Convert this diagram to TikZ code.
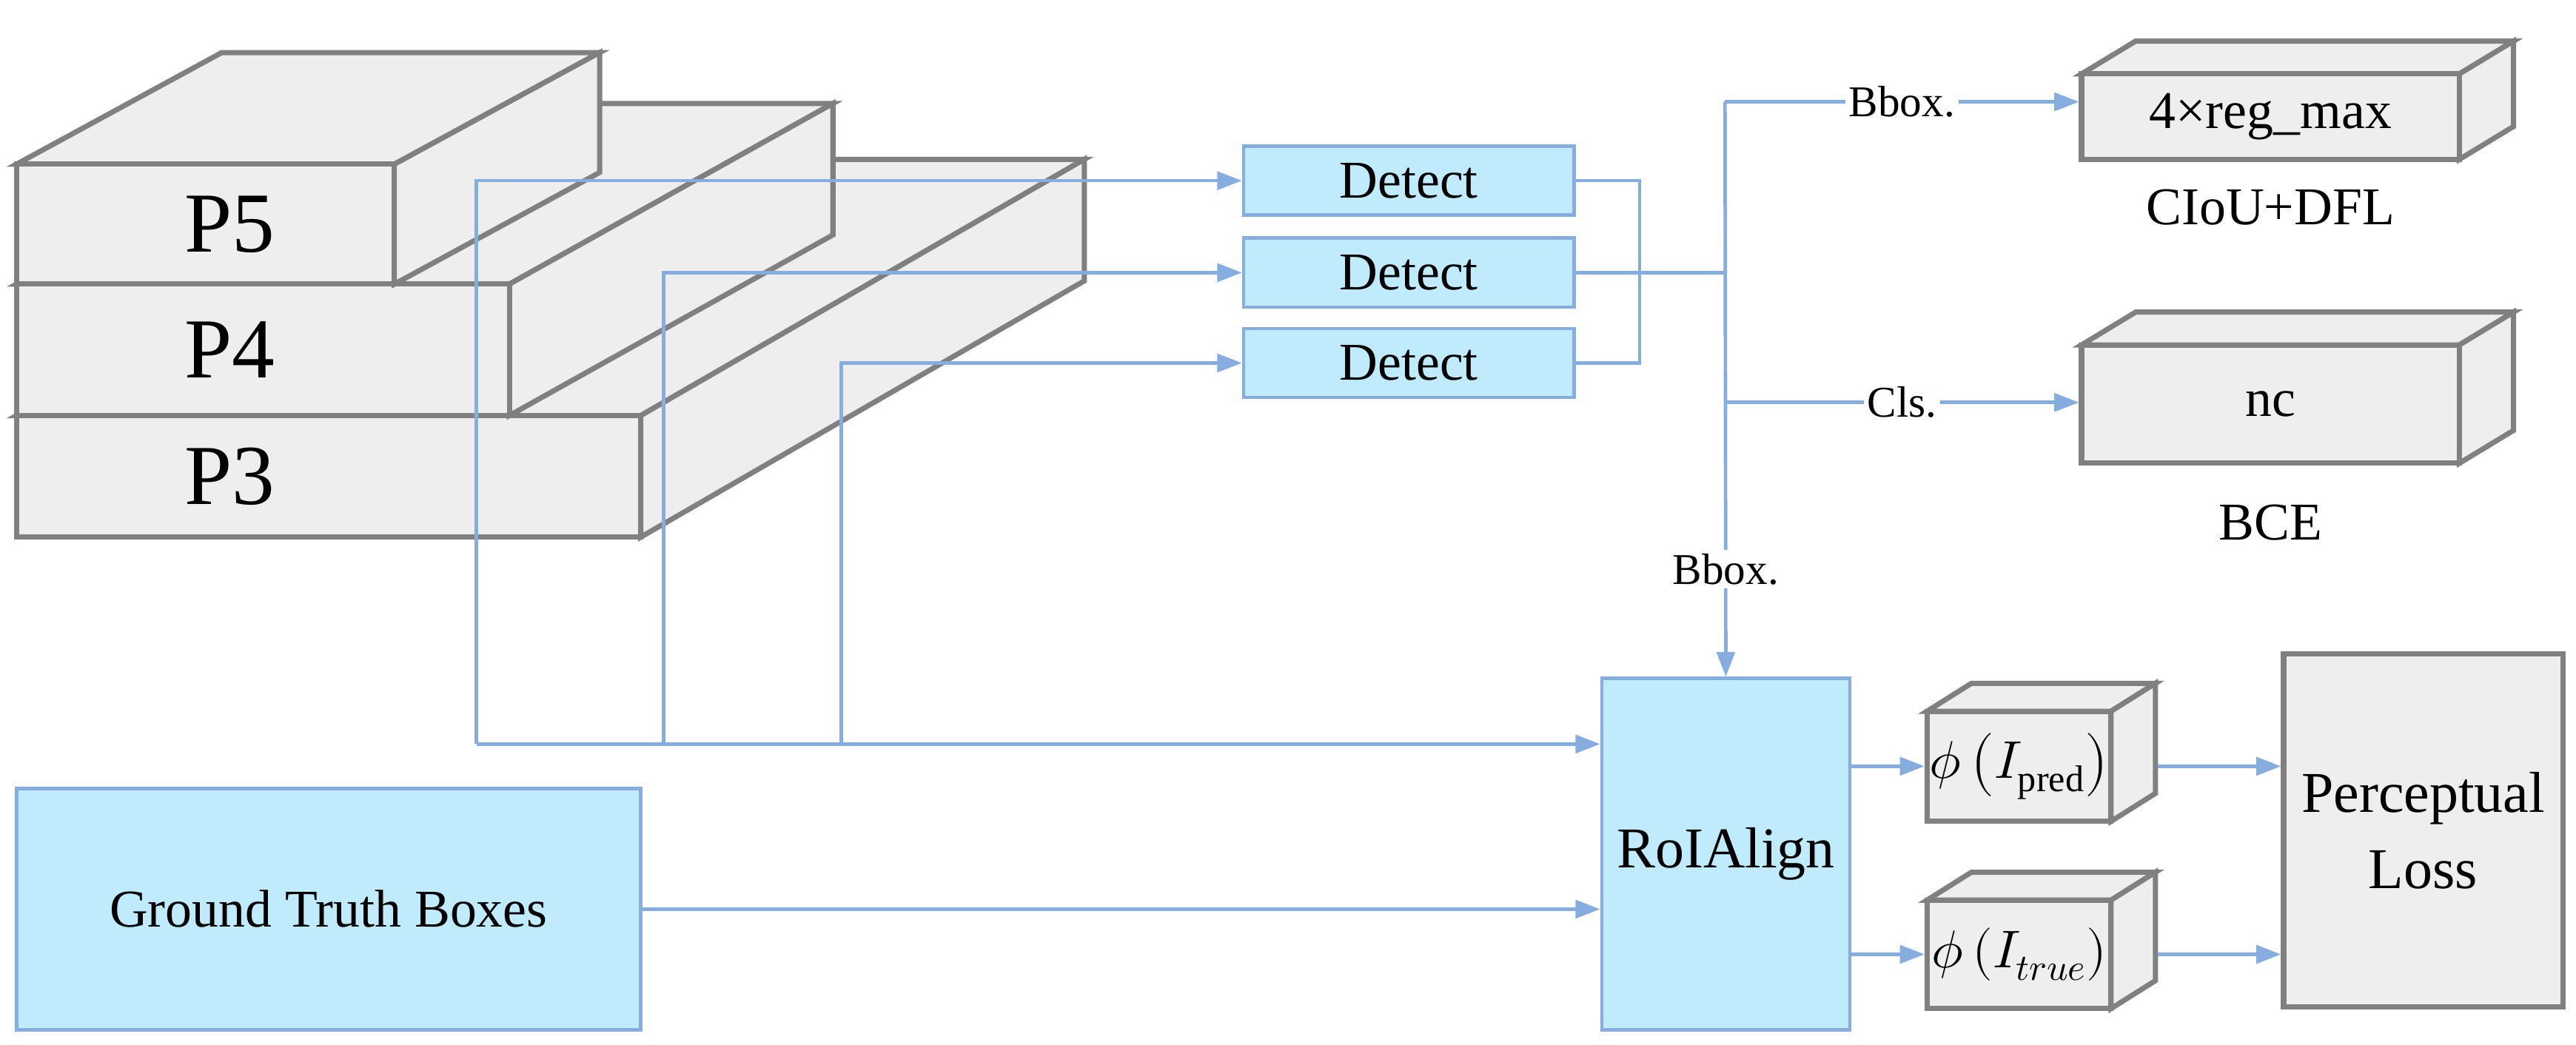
\documentclass[tikz,border=0pt]{standalone}
\usepackage{unicode-math}
\setmainfont{Liberation Serif}
\setmathfont{Latin Modern Math}
\usetikzlibrary{fit,arrows.meta}
\definecolor{lb}{HTML}{86ADDF}
\definecolor{fb}{HTML}{BFEBFD}
\definecolor{gs}{HTML}{808080}
\definecolor{gf}{HTML}{EEEEEE}
\tikzset{
  face/.style={draw=gs,fill=gf,line width=4.5pt,line join=miter},
  gbox/.style={draw=gs,fill=gf,line width=4.5pt,inner sep=0pt},
  bbox/.style={draw=lb,fill=fb,line width=3pt,inner sep=0pt},
  ln/.style={draw=lb,line width=3pt},
  ar/.style={ln,-{Triangle[length=0.75cm,width=0.55cm]}},
  lab/.style={fill=white,inner sep=3pt,font=\fontsize{38}{44}\selectfont},
  big/.style={font=\fontsize{74}{86}\selectfont},
  mid/.style={font=\fontsize{46}{54}\selectfont},
}
% cube: name, x1,y1,x2,y2, dx,dy, text, font style
\newcommand\mycube[9]{%
  \filldraw[face] (#2,#3) -- ++(#6,#7) -- (#4+#6,#3+#7) -- (#4,#3) -- cycle;
  \filldraw[face] (#4,#3) -- (#4+#6,#3+#7) -- (#4+#6,#5+#7) -- (#4,#5) -- cycle;
  \node[gbox,#9,fit={(#2,#3)(#4,#5)}] (#1) {};
  \node[#9] at (#1.center) {#8};
}
\begin{document}
\begin{tikzpicture}[x=0.05cm,y=-0.05cm]
\useasboundingbox (0,0) rectangle (1568,636);
% feature pyramid
\mycube{p3}{10}{253}{390}{327}{270}{-156}{}{big}
\mycube{p4}{10}{173}{310}{253}{197}{-110}{}{big}
\mycube{p5}{10}{100}{240}{173}{125}{-68}{}{big}
\node[big] at (140,136.5) {P5};
\node[big] at (140,213) {P4};
\node[big] at (140,290) {P3};
% detect heads
\node[bbox,mid,fit={(757,89)(958,131)}] (d1) {};
\node[mid] at (d1.center) {Detect};
\node[bbox,mid,fit={(757,145)(958,187)}] (d2) {};
\node[mid] at (d2.center) {Detect};
\node[bbox,mid,fit={(757,200)(958,242)}] (d3) {};
\node[mid] at (d3.center) {Detect};
% roialign, gt
\node[bbox,fit={(975,413)(1126,627)}] (roi) {};
\node[font=\fontsize{50}{60}\selectfont] at (roi.center) {RoIAlign};
\node[bbox,fit={(10,480)(390,627)}] (gt) {};
\node[mid] at (gt.center) {Ground Truth Boxes};
% output cubes
\mycube{reg}{1267}{45}{1497}{97}{33}{-20}{4×reg\_max}{mid}
\node[mid] at (1382,126) {CIoU+DFL};
\mycube{nc}{1267}{210}{1497}{282}{33}{-20}{nc}{mid}
\node[mid] at (1382,318) {BCE};
\mycube{pred}{1173}{433}{1285}{500}{27}{-17}{$\phi\left(I_{\mathrm{pred}}\right)$}{mid}
\mycube{true}{1173}{548}{1285}{614}{27}{-17}{$\phi\left(I_{true}\right)$}{mid}
\node[gbox,fit={(1390,398)(1560,613)}] (perc) {};
\node[align=center,font=\fontsize{50}{66}\selectfont] at (perc.center) {Perceptual\\Loss};
% left connectors
\coordinate (j1) at (290,453);
\coordinate (j2) at (404,453);
\coordinate (j3) at (512,453);
\draw[ar] (j1) |- (d1.west);
\draw[ar] (j2) |- (d2.west);
\draw[ar] (j3) |- (d3.west);
\draw[ar] (j1) -- (roi.west|-j1);
\draw[ar] (gt.east) -- (roi.west|-gt.east);
% right bus
\coordinate (b) at (1050,62);
\draw[ln] (d1.east) -- ++(39,0) |- (d3.east);
\draw[ln] (d2.east) -- (b|-d2.east);
\draw[ar] (b) -- (roi.north) node[lab,pos=0.813] {Bbox.};
\draw[ar] (b) -- (reg.west|-b) node[lab,pos=0.5] {Bbox.};
\coordinate (c) at (1050,245);
\draw[ar] (c) -- (nc.west|-c) node[lab,pos=0.5] {Cls.};
% perceptual
\draw[ar] (roi.east|-pred.center) -- (pred.west);
\draw[ar] (roi.east|-true.center) -- (true.west);
\draw[ar] ([xshift=1.35cm]pred.east) -- (perc.west|-pred.center);
\draw[ar] ([xshift=1.35cm]true.east) -- (perc.west|-true.center);
\end{tikzpicture}
\end{document}
